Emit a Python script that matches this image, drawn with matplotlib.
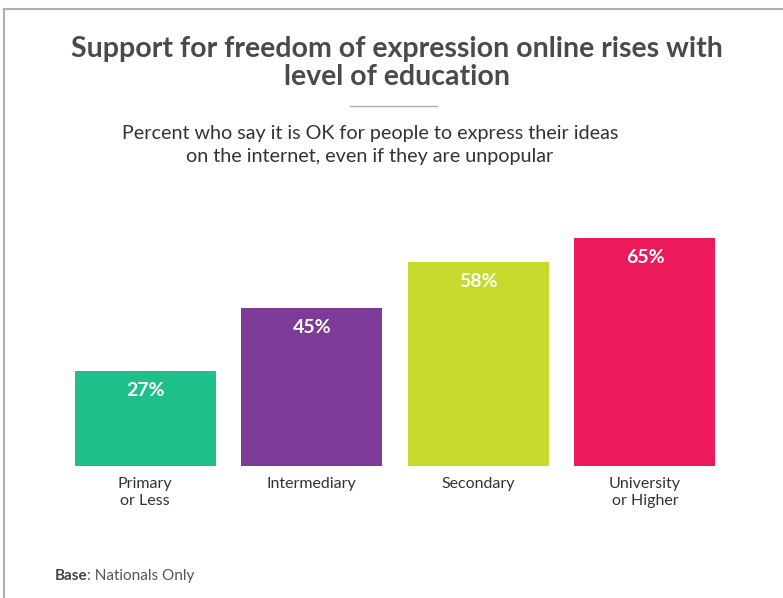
import matplotlib.pyplot as plt
import matplotlib.lines as mlines

categories = ['Primary\nor Less', 'Intermediary', 'Secondary', 'University\nor Higher']
values = [27, 45, 58, 65]
colors = ['#1fbf8c', '#7d3a97', '#c6d92d', '#ec1a5b']

plt.rcParams['font.family'] = ['Lato', 'DejaVu Sans']

fig = plt.figure(figsize=(7.83, 5.98), dpi=100)
W, H = 783, 598

# axes placed in pixel terms
left, right, bottom, top = 61.7, 728.3, 466, 115
ax = fig.add_axes([left / W, 1 - bottom / H, (right - left) / W, (bottom - top) / H])
x = range(len(values))
ax.bar(x, values, width=0.846, color=colors)
ax.set_xlim(-0.5, 3.5)
ax.set_ylim(0, 100)
ax.axis('off')

for i, v in enumerate(values):
    ax.annotate(f'{v}%', (i, v), xytext=(0, -14), textcoords='offset points',
                ha='center', va='center', color='white', fontsize=14, fontweight='bold')
    ax.annotate(categories[i], (i, 0), xytext=(0, -8), textcoords='offset points',
                ha='center', va='top', color='#333333', fontsize=11.5, linespacing=1.3)

fig.text(397 / W, 1 - 63 / H, 'Support for freedom of expression online rises with\nlevel of education',
         ha='center', va='center', fontsize=20.5, fontweight='bold', color='#4a4a4a', linespacing=1.12)
fig.add_artist(mlines.Line2D([350 / W, 437 / W], [1 - 106 / H, 1 - 106 / H], color='#aaaaaa', lw=1))
fig.text(370 / W, 1 - 145 / H, 'Percent who say it is OK for people to express their ideas\non the internet, even if they are unpopular',
         ha='center', va='center', fontsize=14.2, color='#333333', linespacing=1.42)
fig.text(55 / W, 1 - 576 / H, 'Base', ha='left', va='center', fontsize=11, fontweight='bold', color='#444444')
fig.text(87 / W, 1 - 576 / H, ': Nationals Only', ha='left', va='center', fontsize=11, color='#555555')

# frame lines on top and left
fig.add_artist(mlines.Line2D([4 / W, 1], [1 - 9 / H, 1 - 9 / H], color='#b0b0b0', lw=1.5))
fig.add_artist(mlines.Line2D([4 / W, 4 / W], [0, 1 - 9 / H], color='#b0b0b0', lw=1.5))

fig.savefig('out.png', dpi=100)
